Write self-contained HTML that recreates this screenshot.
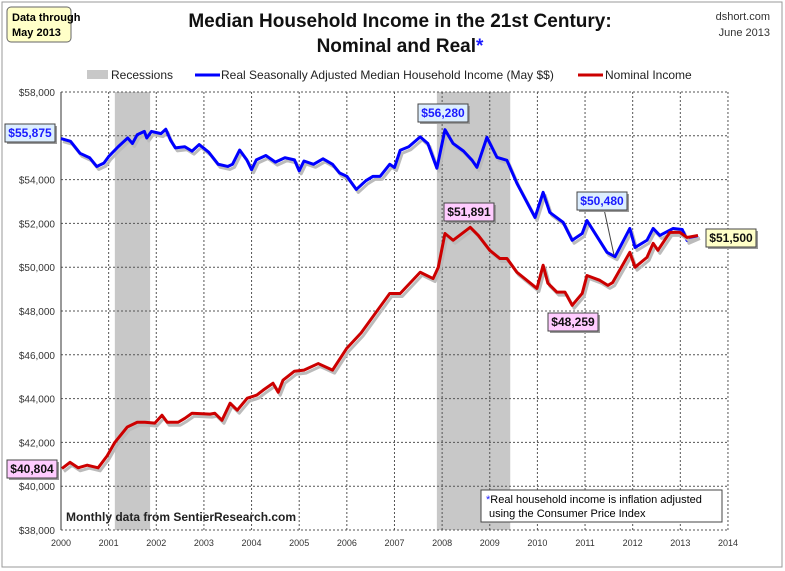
<!DOCTYPE html>
<html><head><meta charset="utf-8"><style>
body{margin:0;background:#fff;font-family:"Liberation Sans",sans-serif}
#c{position:absolute;left:0;top:0}
</style></head><body>
<svg id="c" width="785" height="571" xmlns="http://www.w3.org/2000/svg">
<rect x="2" y="2" width="780" height="565" fill="#fff" stroke="#999"/>
<g id="rec"></g><g id="grid"></g><g id="series"></g>
<text x="400" y="27" text-anchor="middle" font-size="19" font-weight="bold" fill="#111">Median Household Income in the 21st Century:</text>
<text x="400" y="52" text-anchor="middle" font-size="19" font-weight="bold" fill="#111">Nominal and Real<tspan fill="#1a1aff">*</tspan></text>
<g><rect x="7" y="7" width="64" height="35" rx="4" fill="#ffffc8" stroke="#666"/><text x="12" y="21" font-size="11" font-weight="bold">Data through</text><text x="12" y="36" font-size="11" font-weight="bold">May 2013</text></g>
<text x="770" y="20" text-anchor="end" font-size="11" fill="#333">dshort.com</text>
<text x="770" y="36" text-anchor="end" font-size="11" fill="#333">June 2013</text>
<g font-size="12" fill="#222">
<rect x="87" y="70" width="21" height="9" fill="#c8c8c8"/>
<text x="111" y="79">Recessions</text>
<line x1="195" y1="75" x2="220" y2="75" stroke="#0000ff" stroke-width="3"/>
<text x="221" y="79">Real Seasonally Adjusted Median Household Income (May $$)</text>
<line x1="578" y1="75" x2="603" y2="75" stroke="#cc0000" stroke-width="3"/>
<text x="605" y="79">Nominal Income</text>
</g>
<g id="ann" font-size="12" font-weight="bold"></g>
<text x="66" y="521" font-size="12" font-weight="bold" fill="#222">Monthly data from SentierResearch.com</text>
<g><rect x="481" y="490" width="241" height="32" fill="#fff" stroke="#444"/><text x="486" y="503" font-size="11"><tspan fill="#1a1aff">*</tspan>Real household  income is inflation adjusted</text><text x="489" y="517" font-size="11">using  the Consumer Price Index</text></g>
</svg>
<script>
const yearTicks=[2000,2001,2002,2003,2004,2005,2006,2007,2008,2009,2010,2011,2012,2013,2014];
const valueTicks=[38000,40000,42000,44000,46000,48000,50000,52000,54000,56000,58000];
const recessionStart=[2001.13,2007.89];
const recessionEnd=[2001.87,2009.43];
const realYears=[2000.0,2000.2,2000.4,2000.6,2000.75,2000.9,2001.0,2001.2,2001.4,2001.5,2001.6,2001.75,2001.8,2001.9,2002.1,2002.2,2002.3,2002.4,2002.6,2002.75,2002.9,2003.1,2003.3,2003.5,2003.6,2003.75,2003.9,2004.0,2004.1,2004.3,2004.5,2004.7,2004.9,2005.0,2005.1,2005.3,2005.5,2005.7,2005.85,2006.0,2006.2,2006.4,2006.55,2006.7,2006.9,2007.0,2007.12,2007.3,2007.54,2007.7,2007.89,2008.06,2008.23,2008.45,2008.63,2008.73,2008.94,2009.15,2009.36,2009.57,2009.95,2010.12,2010.26,2010.54,2010.73,2010.94,2011.04,2011.46,2011.63,2011.94,2012.05,2012.3,2012.43,2012.57,2012.85,2013.04,2013.14,2013.37];
const realValues=[55875,55750,55200,55000,54600,54750,55050,55500,55900,55650,56050,56200,55900,56200,56100,56300,55800,55450,55500,55300,55600,55250,54700,54600,54700,55350,54900,54450,54900,55100,54800,55000,54900,54400,54850,54700,54950,54700,54300,54150,53550,53950,54150,54150,54700,54550,55340,55500,55950,55650,54520,56280,55650,55300,54880,54560,55930,55020,54880,53830,52270,53420,52500,52050,51230,51540,52130,50680,50480,51770,50900,51230,51770,51450,51770,51720,51230,51450];
const nomYears=[2000.02,2000.19,2000.36,2000.55,2000.78,2000.97,2001.13,2001.39,2001.6,2001.76,2001.97,2002.12,2002.23,2002.46,2002.6,2002.75,2003.13,2003.23,2003.38,2003.55,2003.7,2003.91,2004.11,2004.24,2004.45,2004.56,2004.66,2004.9,2005.1,2005.4,2005.7,2006.0,2006.3,2006.5,2006.9,2007.12,2007.54,2007.81,2007.92,2008.06,2008.23,2008.59,2008.76,2009.0,2009.21,2009.36,2009.57,2009.99,2010.12,2010.22,2010.41,2010.58,2010.73,2010.94,2011.04,2011.31,2011.48,2011.58,2011.94,2012.05,2012.3,2012.43,2012.53,2012.78,2012.99,2013.14,2013.37];
const nomValues=[40804,41090,40840,40960,40840,41390,42000,42700,42920,42920,42880,43240,42920,42920,43100,43330,43290,43330,43010,43790,43470,44020,44160,44380,44700,44290,44840,45250,45300,45600,45300,46300,47000,47600,48800,48800,49770,49480,50000,51540,51230,51820,51450,50770,50400,50400,49770,49030,50090,49270,48860,48860,48259,48800,49620,49400,49170,49300,50680,50000,50450,51090,50770,51590,51590,51360,51450];
const annLabels=["$55,875","$40,804","$56,280","$51,891","$50,480","$48,259","$51,500"];
const NS="http://www.w3.org/2000/svg";
const X0=61,YW=47.64,Y0=530,VH=43.8/2000;
const xs=y=>X0+(y-2000)*YW, ys=v=>Y0-(v-38000)*VH;
function mk(t,a,p){const e=document.createElementNS(NS,t);for(const k in a)e.setAttribute(k,a[k]);p.appendChild(e);return e;}
const rec=document.getElementById('rec'),grid=document.getElementById('grid'),ser=document.getElementById('series'),ann=document.getElementById('ann');
for(let i=0;i<recessionStart.length;i++){const r=mk('rect',{x:xs(recessionStart[i]),y:ys(58000),width:xs(recessionEnd[i])-xs(recessionStart[i]),height:ys(38000)-ys(58000),fill:'#c8c8c8'},rec);

}
valueTicks.forEach(v=>{const l=mk('line',{x1:xs(2000),x2:xs(2014),y1:ys(v),y2:ys(v),stroke:'#555','stroke-dasharray':'2,2','stroke-width':1},grid);


const t=mk('text',{x:55,y:ys(v)+4,'text-anchor':'end','font-size':10,fill:'#333'},grid);t.textContent='$'+v.toLocaleString('en-US');

});
yearTicks.forEach(y=>{const l=mk('line',{x1:xs(y),x2:xs(y),y1:ys(58000),y2:ys(38000),stroke:'#555','stroke-dasharray':'2,2','stroke-width':1},grid);


const t=mk('text',{x:xs(y),y:546,'text-anchor':'middle','font-size':9,fill:'#333'},grid);t.textContent=y;

});
mk('line',{x1:X0,x2:X0,y1:ys(58000),y2:ys(38000),stroke:'#333'},grid);
function pts(xa,va,dx,dy){return xa.map((y,i)=>(xs(y)+dx)+','+(ys(va[i])+dy)).join(' ');}
[[realYears,realValues,'#0000ff','real-income-line'],[nomYears,nomValues,'#cc0000','nominal-income-line']].forEach(s=>{
const sh=mk('polyline',{points:pts(s[0],s[1],2,3),fill:'none',stroke:'#bbb','stroke-width':3,'stroke-linejoin':'round'},ser);


const p=mk('polyline',{points:pts(s[0],s[1],0,0),fill:'none',stroke:s[2],'stroke-width':3,'stroke-linejoin':'round'},ser);

});
mk('line',{x1:604,y1:209,x2:614,y2:255,stroke:'#444'},ann);
const boxes=[[5,124,'#dceeff','#1a1aff'],[7,460,'#ffccff','#111'],[418,104,'#dceeff','#1a1aff'],[444,203,'#ffccff','#111'],[577,192,'#dceeff','#1a1aff'],[548,313,'#ffccff','#111'],[706,229,'#ffffc8','#111']];
boxes.forEach((b,i)=>{const g=mk('g',{},ann);


mk('rect',{x:b[0]+2,y:b[1]+2,width:50,height:18,fill:'#999'},g);
mk('rect',{x:b[0],y:b[1],width:50,height:18,fill:b[2],stroke:'#444'},g);
const t=mk('text',{x:b[0]+25,y:b[1]+13,'text-anchor':'middle',fill:b[3]},g);t.textContent=annLabels[i];});
</script>
</body></html>
